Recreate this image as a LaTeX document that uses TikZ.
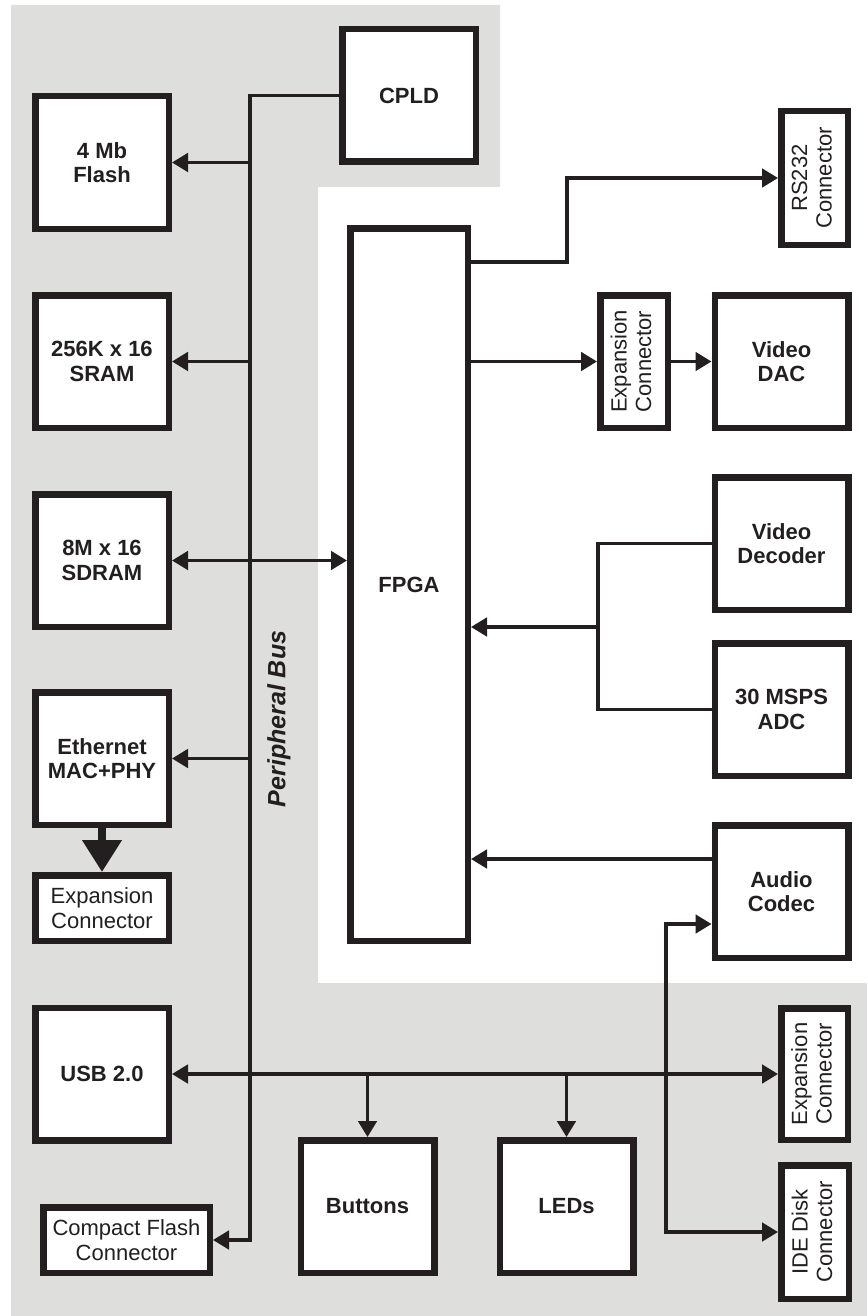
\documentclass[tikz,border=0pt]{standalone}
\usepackage{fontspec}
\setmainfont{Liberation Sans}
\usetikzlibrary{arrows.meta}
\definecolor{ink}{RGB}{35,31,32}
\definecolor{panel}{RGB}{222,222,220}
\newcommand\lblsz{\fontsize{22}{24.5}\selectfont}
\newcommand\vtext[1]{\rotatebox{90}{\begin{tabular}{@{}c@{}}#1\end{tabular}}}
\begin{document}
\begin{tikzpicture}[x=1pt,y=-1pt,
  box/.style={draw=ink, line width=6.5pt, fill=white, inner sep=0pt, align=center, text=ink},
  big/.style={box, minimum width=133.5pt, minimum height=132.5pt, font=\lblsz\bfseries},
  conn/.style={box, font=\lblsz},
  wire/.style={draw=ink, line width=3.3pt},
  tipa/.tip={Triangle[length=16pt,width=18.5pt]},
  arr/.style={wire, -tipa},
  arrb/.style={wire, tipa-tipa}]
\useasboundingbox (0,0) rectangle (867,1316);
% grey panel
\fill[panel] (11,5) -- (500,5) -- (500,187) -- (318,187) -- (318,983) -- (867,983) -- (867,1316) -- (11,1316) -- cycle;

% left column
\node[big] (cpld) at (409,95.5) {CPLD};
\node[big] (flash) at (102,162.5) {4 Mb\\Flash};
\node[big] (sram) at (102,361.5) {256K x 16\\SRAM};
\node[big] (sdram) at (102,560.5) {8M x 16\\SDRAM};
\node[big] (eth) at (102,758.5) {Ethernet\\MAC+PHY};
\node[conn, minimum width=133.5pt, minimum height=65.5pt] (expl) at (102,908) {Expansion\\Connector};
\node[big] (usb) at (102,1074) {USB 2.0};
\node[conn, minimum width=166.5pt, minimum height=65.5pt] (cf) at (126.5,1240) {Compact Flash\\Connector};
\node[big] (btn) at (367.5,1206.5) {Buttons};
\node[big] (led) at (566.5,1206.5) {LEDs};

% FPGA
\node[box, font=\lblsz\bfseries, minimum width=117.5pt, minimum height=712.5pt] (fpga) at (409,584.5) {FPGA};

% right column
\node[conn, minimum width=66.5pt, minimum height=133.5pt] (rs) at (814.5,178) {\vtext{RS232\\Connector}};
\node[conn, minimum width=67.5pt, minimum height=132.5pt] (expm) at (634,361.5) {\vtext{Expansion\\Connector}};
\node[big] (dac) at (781.5,361.5) {Video\\DAC};
\node[big] (vdec) at (781.5,543.5) {Video\\Decoder};
\node[big] (adc) at (781.5,709.5) {30 MSPS\\ADC};
\node[big] (audio) at (781.5,891.5) {Audio\\Codec};
\node[conn, minimum width=66.5pt, minimum height=131.5pt] (expr) at (814.5,1074) {\vtext{Expansion\\Connector}};
\node[conn, minimum width=67.5pt, minimum height=133.5pt] (ide) at (815,1232) {\vtext{IDE Disk\\Connector}};

% bus label
\node[rotate=90, font=\fontsize{25}{28}\selectfont\bfseries\itshape, text=ink, inner sep=0pt] (buslbl) at (279,719) {Peripheral Bus};

% coordinates
\coordinate (busx) at (250,0);
\coordinate (rsj) at (567,262);
\coordinate (vj) at (598,627);
\coordinate (aud) at (712,859);
\coordinate (aj) at (666,924);
\coordinate (ij) at (666,1232);

% peripheral bus
\draw[arr] (cpld.west) -- (cpld.west -| busx) -- (cf.east -| busx) -- (cf.east);
\draw[arr] (flash.east -| busx) -- (flash.east);
\draw[arr] (sram.east -| busx) -- (sram.east);
\draw[arr] (eth.east -| busx) -- (eth.east);
\draw[arrb] (sdram.east) -- (sdram.east -| fpga.west);

% ethernet to expansion
\draw[draw=ink, line width=7.5pt, -{Triangle[length=32pt,width=38pt]}] (eth.south) -- (expl.north);

% USB line
\draw[arrb] (usb.east) -- (expr.west);
\draw[arr] (btn.north |- usb.east) -- (btn.north);
\draw[arr] (led.north |- usb.east) -- (led.north);

% FPGA right side
\draw[arr] (fpga.east |- rsj) -- (rsj) -- (rsj |- rs.west) -- (rs.west);
\draw[arr] (fpga.east |- expm.west) -- (expm.west);
\draw[arr] (expm.east) -- (dac.west);
\draw[wire] (vdec.west) -- (vdec.west -| vj) -- (adc.west -| vj) -- (adc.west);
\draw[arr] (vj) -- (fpga.east |- vj);
\draw[arr] (aud) -- (fpga.east |- aud);
\draw[arrb] (audio.west |- aj) -- (aj) -- (ij) -- (ide.west);
\end{tikzpicture}
\end{document}
